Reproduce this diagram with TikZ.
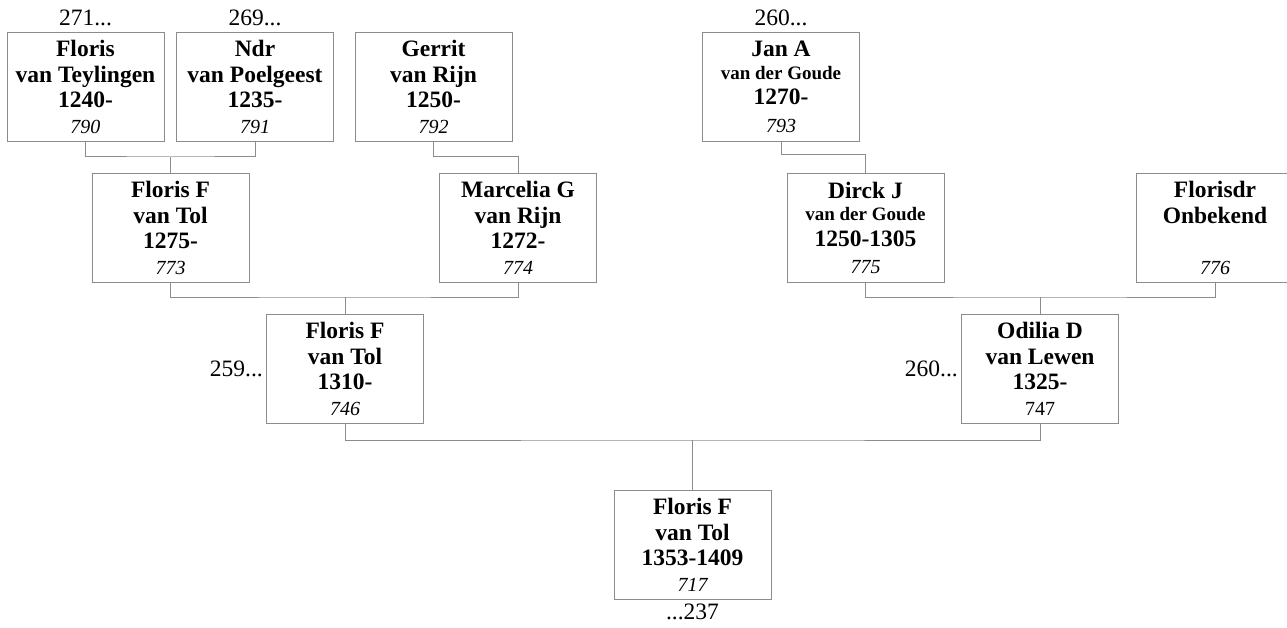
\documentclass[tikz,border=0pt]{standalone}
\usepackage{fontspec}
\setmainfont{Liberation Serif}
\usetikzlibrary{positioning}

\newcommand{\nr}[1]{{\fontsize{20}{25.5}\selectfont\mdseries\itshape #1}}
\newcommand{\nrup}[1]{{\fontsize{20}{25.5}\selectfont\mdseries #1}}
\newcommand{\sm}[1]{{\fontsize{19}{25.5}\selectfont #1}}

\begin{document}
\begin{tikzpicture}[x=1pt, y=-1pt,
  font=\fontsize{23.5}{25.5}\selectfont,
  box/.style={draw=black!45, line width=1pt, anchor=north, align=center,
    inner sep=0pt, minimum width=157pt, minimum height=109pt,
    font=\fontsize{23.5}{25.5}\selectfont\bfseries},
  link/.style={draw=black!45, line width=1pt},
  tag/.style={inner sep=0pt}
]
\useasboundingbox (0,0) rectangle (1287,628);

% grandparents' parents
\node[box] (p790) at (85.5,32) {Floris\\van Teylingen\\1240-\\\nr{790}};
\node[box] (p791) at (255,32) {Ndr\\van Poelgeest\\1235-\\\nr{791}};
\node[box] (p792) at (433.5,32) {Gerrit\\van Rijn\\1250-\\\nr{792}};
\node[box] (p793) at (781,32) {Jan A\\[-3pt]\sm{van der Goude}\\1270-\\[2pt]\nr{793}};
\node[tag, above=6pt of p790] (t790) {271...};
\node[tag, above=6pt of p791] (t791) {269...};
\node[tag, above=6pt of p793] (t793) {260...};

% grandparents
\node[box] (p773) at (170.5,173) {Floris F\\van Tol\\1275-\\\nr{773}};
\node[box] (p774) at (518,173) {Marcelia G\\van Rijn\\1272-\\\nr{774}};
\node[box] (p775) at (865.5,173) {Dirck J\\[-3pt]\sm{van der Goude}\\1250-1305\\[2pt]\nr{775}};
\node[box] (p776) at (1215,173) {Florisdr\\Onbekend\\\mbox{}\\\nr{776}};

% parents
\node[box] (p746) at (345,314) {Floris F\\van Tol\\1310-\\\nr{746}};
\node[box] (p747) at (1040,314) {Odilia D\\van Lewen\\1325-\\\nrup{747}};
\node[tag, left=3pt of p746] (t746) {259...};
\node[tag, left=3pt of p747] (t747) {260...};

% root
\node[box] (p717) at (692.5,490) {Floris F\\van Tol\\1353-1409\\\nr{717}};
\node[tag, below=4pt of p717] (t717) {...237};

% junctions
\coordinate (j773) at (170.5,157);
\coordinate (j774) at (518,157);
\coordinate (j775) at (865.5,155);
\coordinate (j746) at (345,297);
\coordinate (j747) at (1040,297);
\coordinate (j717) at (692.5,440);

\draw[link] (p790.south) |- (j773) -| (p791.south);
\draw[link] (j773) -- (p773.north);
\draw[link] (p792.south) |- (j774) -- (p774.north);
\draw[link] (p793.south) |- (j775) -- (p775.north);
\draw[link] (p773.south) |- (j746) -| (p774.south);
\draw[link] (j746) -- (p746.north);
\draw[link] (p775.south) |- (j747) -| (p776.south);
\draw[link] (j747) -- (p747.north);
\draw[link] (p746.south) |- (j717) -| (p747.south);
\draw[link] (j717) -- (p717.north);
\end{tikzpicture}
\end{document}
